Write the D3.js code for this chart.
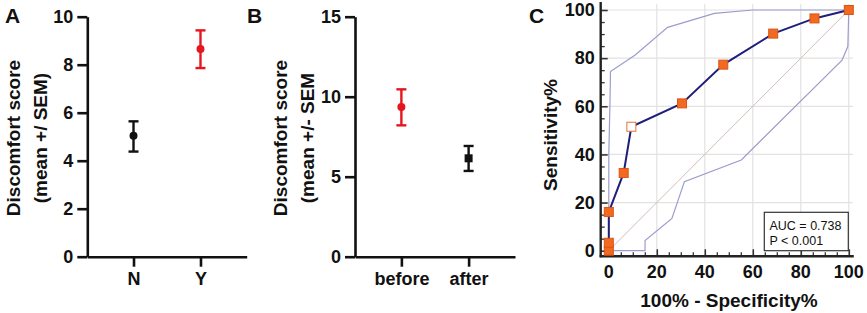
<!DOCTYPE html>
<html>
<head>
<meta charset="utf-8">
<script src="https://cdn.jsdelivr.net/npm/d3@7"></script>
<style>
  body { margin: 0; background: #fff; }
  svg { display: block; font-family: "Liberation Sans", Arial, sans-serif; }
  .bold { font-weight: bold; }
</style>
</head>
<body>
<svg id="chart" width="867" height="313"></svg>
<script>
// Panel A data
const groupsA = ["N", "Y"];
const meanA = [5.04, 8.65];
const lowA = [4.38, 7.86];
const highA = [5.64, 9.43];
const colorsA = ["#111111", "#e5161d"];
const ticksA = [0, 2, 4, 6, 8, 10];

// Panel B data
const groupsB = ["before", "after"];
const meanB = [9.36, 6.15];
const lowB = [8.21, 5.36];
const highB = [10.46, 6.92];
const colorsB = ["#e5161d", "#111111"];
const ticksB = [0, 5, 10, 15];

// Panel C data (ROC curve)
const rocX = [0, 0, 0, 6.2, 9.4, 30.5, 47.7, 68.5, 85.7, 100];
const rocY = [0, 3.3, 16.1, 32.3, 51.5, 61.2, 77.3, 90.2, 96.5, 100];
const hollowIndex = 4;
const upperX = [0, 0, 0.5, 0.7, 11, 24.5, 44, 60, 100];
const upperY = [0, 40, 62, 74.4, 81.3, 92.8, 98.6, 100, 100];
const lowerX = [0, 15.1, 15.1, 26.3, 31.5, 55.2, 97.2, 99.6, 100];
const lowerY = [0, 0, 4.2, 13.4, 28.7, 37.7, 79.2, 84.8, 100];
const ticksC = [0, 20, 40, 60, 80, 100];
const aucText = ["AUC = 0.738", "P < 0.001"];

const svg = d3.select("#chart");

// Styling helper for the GraphPad-like axes
function styleAxis(g, size) {
  g.selectAll("path, line").attr("stroke", "#111").attr("stroke-width", 2.6);
  g.selectAll("text").attr("class", "bold").attr("fill", "#111").style("font-size", size + "px");
}

// Mean +/- SEM panel
function drawDotPanel(o) {
  let y = d3.scaleLinear().domain(o.domain).range([256.7, 16.7]);
  let x = d3.scalePoint().domain(o.groups).range([o.left, o.right]).padding(0.69);

  svg.append("g").attr("transform", "translate(" + o.left + ",0)")
    .call(d3.axisLeft(y).tickValues(o.ticks).tickSize(10).tickSizeOuter(0).tickPadding(4))
    .call(g => styleAxis(g, 18));

  svg.append("g").attr("transform", "translate(0,256.7)")
    .call(d3.axisBottom(x).tickSize(10).tickSizeOuter(0).tickPadding(6))
    .call(g => styleAxis(g, 18));

  o.groups.forEach((grp, i) => {
    let cx = x(grp), col = o.colors[i];
    let g = svg.append("g").attr("stroke", col).attr("stroke-width", 2.4);
    g.append("line").attr("x1", cx).attr("x2", cx).attr("y1", y(o.low[i])).attr("y2", y(o.high[i]));
    g.append("line").attr("x1", cx - 5).attr("x2", cx + 5).attr("y1", y(o.low[i])).attr("y2", y(o.low[i]));
    g.append("line").attr("x1", cx - 5).attr("x2", cx + 5).attr("y1", y(o.high[i])).attr("y2", y(o.high[i]));
    if (o.shapes[i] == "square")
      svg.append("rect").attr("x", cx - 4).attr("y", y(o.mean[i]) - 4).attr("width", 8).attr("height", 8).attr("fill", col);
    else
      svg.append("circle").attr("cx", cx).attr("cy", y(o.mean[i])).attr("r", 4).attr("fill", col);
  });

  let t = svg.append("text").attr("class", "bold").attr("text-anchor", "middle")
    .attr("transform", "translate(" + o.titleX + ",138) rotate(-90)").style("font-size", "19px").attr("fill", "#111");
  t.append("tspan").attr("x", 0).attr("dy", 0).text(o.title[0]);
  t.append("tspan").attr("x", 0).attr("dy", 27).text(o.title[1]);

  svg.append("text").attr("class", "bold").attr("x", o.letterX).attr("y", 23)
    .style("font-size", "21px").attr("fill", "#111").text(o.letter);
}

drawDotPanel({
  groups: groupsA, mean: meanA, low: lowA, high: highA, colors: colorsA, shapes: ["circle", "circle"],
  domain: [0, 10], ticks: ticksA, left: 87.3, right: 246.7, titleX: 20,
  title: ["Discomfort score", "(mean +/ SEM)"], letter: "A", letterX: 5
});

drawDotPanel({
  groups: groupsB, mean: meanB, low: lowB, high: highB, colors: colorsB, shapes: ["circle", "square"],
  domain: [0, 15], ticks: ticksB, left: 355, right: 515, titleX: 287,
  title: ["Discomfort score", "(mean +/- SEM"], letter: "B", letterX: 247
});

// Panel C: ROC curve
let xC = d3.scaleLinear().domain([0, 100]).range([608.8, 848.8]);
let yC = d3.scaleLinear().domain([0, 100]).range([250.7, 10]);
let axisX0 = 600.7, axisY0 = 256.3;

// grid
let grid = svg.append("g").attr("stroke", "#e2e2e2").attr("stroke-width", 1.2);
ticksC.filter(v => v > 0).forEach(v => {
  grid.append("line").attr("x1", xC(v)).attr("x2", xC(v)).attr("y1", axisY0).attr("y2", yC(100) - 6);
  grid.append("line").attr("x1", axisX0).attr("x2", xC(100) + 4).attr("y1", yC(v)).attr("y2", yC(v));
});

// axes with inward ticks
let minor = d3.range(0, 101, 5).filter(v => v % 20 != 0);
svg.append("g").attr("transform", "translate(" + axisX0 + ",0)")
  .call(d3.axisRight(yC).tickValues(minor).tickSize(4).tickFormat(""))
  .call(g => { g.select(".domain").remove(); g.selectAll("line").attr("stroke", "#333").attr("stroke-width", 1.3); });
svg.append("g").attr("transform", "translate(0," + axisY0 + ")")
  .call(d3.axisTop(xC).tickValues(minor).tickSize(4).tickFormat(""))
  .call(g => { g.select(".domain").remove(); g.selectAll("line").attr("stroke", "#333").attr("stroke-width", 1.3); });
svg.append("g").attr("transform", "translate(" + axisX0 + ",0)")
  .call(d3.axisRight(yC).tickValues(ticksC).tickSize(7).tickFormat(""))
  .call(g => { g.select(".domain").remove(); g.selectAll("line").attr("stroke", "#333").attr("stroke-width", 1.6); });
svg.append("g").attr("transform", "translate(0," + axisY0 + ")")
  .call(d3.axisTop(xC).tickValues(ticksC).tickSize(7).tickFormat(""))
  .call(g => { g.select(".domain").remove(); g.selectAll("line").attr("stroke", "#333").attr("stroke-width", 1.6); });
svg.append("line").attr("x1", axisX0).attr("x2", axisX0).attr("y1", 2).attr("y2", axisY0 + 1)
  .attr("stroke", "#222").attr("stroke-width", 2.4);
svg.append("line").attr("x1", axisX0 - 1).attr("x2", xC(100) + 5).attr("y1", axisY0).attr("y2", axisY0)
  .attr("stroke", "#222").attr("stroke-width", 2.4);

// tick labels
ticksC.forEach(v => {
  svg.append("text").attr("class", "bold").attr("x", axisX0 - 6).attr("y", yC(v)).attr("dy", "0.35em")
    .attr("text-anchor", "end").style("font-size", "18px").attr("fill", "#111").text(v);
  svg.append("text").attr("class", "bold").attr("x", xC(v)).attr("y", 278)
    .attr("text-anchor", "middle").style("font-size", "18px").attr("fill", "#111").text(v);
});

// diagonal
svg.append("line").attr("x1", xC(0)).attr("y1", yC(0)).attr("x2", xC(100)).attr("y2", yC(100))
  .attr("stroke", "#d6bcb4").attr("stroke-width", 1);

// confidence bands
let line = d3.line().x(d => xC(d[0])).y(d => yC(d[1]));
svg.append("path").datum(d3.zip(upperX, upperY)).attr("d", line)
  .attr("fill", "none").attr("stroke", "#9c9ccf").attr("stroke-width", 1.2);
svg.append("path").datum(d3.zip(lowerX, lowerY)).attr("d", line)
  .attr("fill", "none").attr("stroke", "#9c9ccf").attr("stroke-width", 1.2);

// ROC line
let rocPts = d3.zip(rocX, rocY);
svg.append("path").datum(rocPts).attr("d", line)
  .attr("fill", "none").attr("stroke", "#1f1f7a").attr("stroke-width", 2);
svg.selectAll("rect.roc").data(rocPts).enter().append("rect").attr("class", "roc")
  .attr("x", d => xC(d[0]) - 4.5).attr("y", d => yC(d[1]) - 4.5).attr("width", 9).attr("height", 9)
  .attr("fill", (d, i) => i == hollowIndex ? "#fff" : "#f26a1f")
  .attr("stroke", (d, i) => i == hollowIndex ? "#e8703a" : "#d9541a").attr("stroke-width", 1);

// AUC box
svg.append("rect").attr("x", 764.3).attr("y", 212.3).attr("width", 84).attr("height", 38.4)
  .attr("fill", "#fff").attr("stroke", "#333").attr("stroke-width", 1.2);
aucText.forEach((s, i) => {
  svg.append("text").attr("x", 769.5).attr("y", 229.5 + i * 15).style("font-size", "12.5px")
    .attr("fill", "#111").text(s);
});

// axis titles
svg.append("text").attr("class", "bold").attr("text-anchor", "middle")
  .attr("transform", "translate(557,135) rotate(-90)").style("font-size", "19px").attr("fill", "#111").text("Sensitivity%");
svg.append("text").attr("class", "bold").attr("text-anchor", "middle").attr("x", 729).attr("y", 307)
  .style("font-size", "19px").attr("fill", "#111").text("100% - Specificity%");
svg.append("text").attr("class", "bold").attr("x", 529).attr("y", 23)
  .style("font-size", "21px").attr("fill", "#111").text("C");
</script>
</body>
</html>
